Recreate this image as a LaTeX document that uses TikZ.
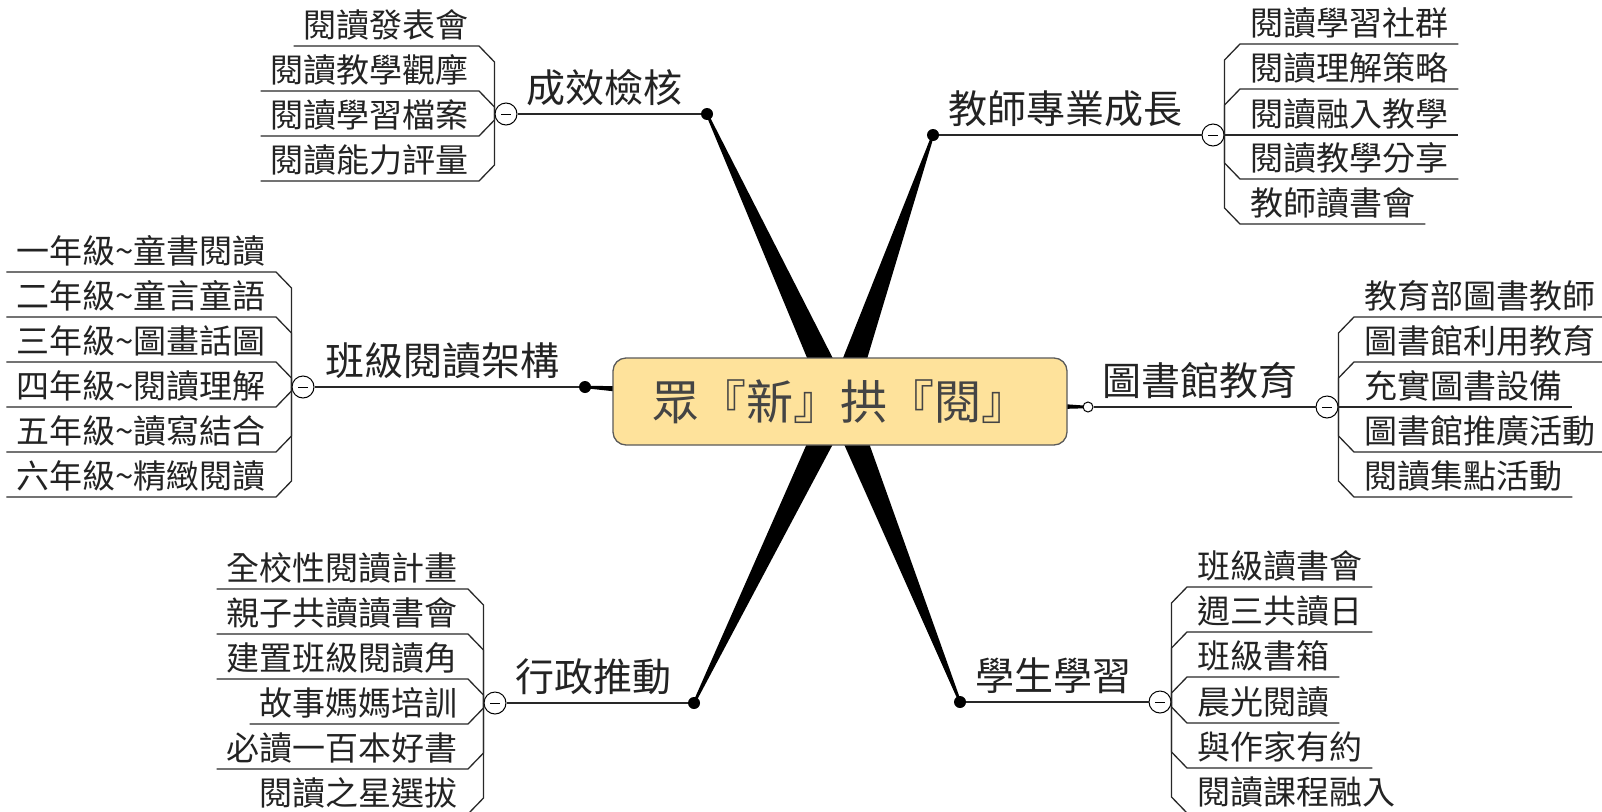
\documentclass[tikz,border=0pt]{standalone}
\usepackage{fontspec}
\newfontfamily\cjk{Noto Sans CJK TC}
\usetikzlibrary{calc}
\definecolor{boxfill}{RGB}{254,226,155}
\definecolor{boxline}{RGB}{90,90,90}
\definecolor{ink}{RGB}{35,35,35}
\definecolor{linec}{RGB}{40,40,40}
\newcommand\wedgeto[1]{\fill ($(ctr)!13.5pt!90:(#1)$) -- ($(#1)!1.2pt!-90:(ctr)$) -- ($(#1)!1.2pt!90:(ctr)$) -- ($(ctr)!13.5pt!-90:(#1)$) -- cycle;}
\newcommand\leafconnL[2]{\draw[conn] let \p1=(#1.west), \p2=(#2.south east) in (\p1) -- (\x1,{\y2+16pt*sign(\y1-\y2)}) -- (\p2) -- (#2.south west);}
\newcommand\leafconnR[2]{\draw[conn] let \p1=(#1.east), \p2=(#2.south west) in (\p1) -- (\x1,{\y2+16pt*sign(\y1-\y2)}) -- (\p2) -- (#2.south east);}
\newcommand\tld{\textasciitilde}
\begin{document}
\begin{tikzpicture}[x=1pt,y=-1pt,
  leafL/.style={font=\cjk\fontsize{33}{33}\selectfont, text=ink, inner xsep=10pt, inner ysep=0pt, text height=29pt, text depth=8.5pt, anchor=south east},
  leafR/.style={leafL, anchor=south west},
  brlabel/.style={font=\cjk\fontsize{39}{39}\selectfont, text=ink, inner sep=0pt, anchor=base west},
  cbox/.style={draw=boxline, line width=1.3pt, fill=boxfill, rounded corners=13pt, minimum width=454pt, minimum height=87pt, text height=39pt, text depth=3pt, inner sep=0pt, font=\cjk\fontsize{47}{47}\selectfont, text=ink!85},
  bdot/.style={circle, fill=black, inner sep=0pt, minimum size=12pt},
  odot/.style={circle, draw=black, fill=white, line width=1pt, inner sep=0pt, minimum size=10pt},
  coll/.style={circle, draw=black, fill=white, line width=1pt, inner sep=0pt, minimum size=22pt, path picture={\draw[line width=1pt] ([xshift=-5pt]path picture bounding box.center) -- ([xshift=5pt]path picture bounding box.center);}},
  conn/.style={draw=linec, line width=1.3pt}
]
\useasboundingbox (0,0) rectangle (1602,811);
\fill[white] (0,0) rectangle (1602,811);

% hub and branch end points
\coordinate (ctr) at (840,402);
\coordinate (pA) at (707,114);
\coordinate (pB) at (933,135);
\coordinate (pC) at (585,387);
\coordinate (pD) at (1088,407);
\coordinate (pE) at (694,703);
\coordinate (pF) at (960,702);

% tapered branches
\wedgeto{pA}
\wedgeto{pB}
\wedgeto{pC}
\wedgeto{pD}
\wedgeto{pE}
\wedgeto{pF}

\node[cbox] (hub) at (840,401.5) {眾『新』拱『閱』};

\node[bdot] (dA) at (pA) {};
\node[bdot] (dB) at (pB) {};
\node[bdot] (dC) at (pC) {};
\node[odot] (dD) at (pD) {};
\node[bdot] (dE) at (pE) {};
\node[bdot] (dF) at (pF) {};

% collapse circles
\node[coll] (cA) at (506,114) {};
\node[coll] (cB) at (1213,135) {};
\node[coll] (cC) at (303,387) {};
\node[coll] (cD) at (1327,407) {};
\node[coll] (cE) at (495,703) {};
\node[coll] (cF) at (1160,702) {};

\draw[conn] (dA) -- (cA);
\draw[conn] (dB) -- (cB);
\draw[conn] (dC) -- (cC);
\draw[conn] (dD) -- (cD);
\draw[conn] (dE) -- (cE);
\draw[conn] (dF) -- (cF);

% branch labels
\node[brlabel] (lA) at (526.5,102) {成效檢核};
\node[brlabel] (lB) at (948.5,123) {教師專業成長};
\node[brlabel] (lC) at (325.5,375) {班級閱讀架構};
\node[brlabel] (lD) at (1102.5,395) {圖書館教育};
\node[brlabel] (lE) at (515.5,691) {行政推動};
\node[brlabel] (lF) at (975.5,690) {學生學習};

% leaves A
\node[leafL] (a1) at (479,46) {閱讀發表會};
\node[leafL] (a2) at (479,91) {閱讀教學觀摩};
\node[leafL] (a3) at (479,136) {閱讀學習檔案};
\node[leafL] (a4) at (479,181) {閱讀能力評量};
\foreach \lf in {a1,a2,a3,a4} {\leafconnL{cA}{\lf}}

% leaves B
\node[leafR] (b1) at (1240,44) {閱讀學習社群};
\node[leafR] (b2) at (1240,89) {閱讀理解策略};
\node[leafR] (b3) at (1240,135) {閱讀融入教學};
\node[leafR] (b4) at (1240,179) {閱讀教學分享};
\node[leafR] (b5) at (1240,224) {教師讀書會};
\foreach \lf in {b1,b2,b3,b4,b5} {\leafconnR{cB}{\lf}}

% leaves C
\node[leafL] (c1) at (276,272) {一年級\tld 童書閱讀};
\node[leafL] (c2) at (276,317) {二年級\tld 童言童語};
\node[leafL] (c3) at (276,362) {三年級\tld 圖畫話圖};
\node[leafL] (c4) at (276,407) {四年級\tld 閱讀理解};
\node[leafL] (c5) at (276,452) {五年級\tld 讀寫結合};
\node[leafL] (c6) at (276,497) {六年級\tld 精緻閱讀};
\foreach \lf in {c1,c2,c3,c4,c5,c6} {\leafconnL{cC}{\lf}}

% leaves D
\node[leafR] (d1) at (1354,317) {教育部圖書教師};
\node[leafR] (d2) at (1354,362) {圖書館利用教育};
\node[leafR] (d3) at (1354,407) {充實圖書設備};
\node[leafR] (d4) at (1354,452) {圖書館推廣活動};
\node[leafR] (d5) at (1354,497) {閱讀集點活動};
\foreach \lf in {d1,d2,d3,d4,d5} {\leafconnR{cD}{\lf}}

% leaves E
\node[leafL] (e1) at (468,589) {全校性閱讀計畫};
\node[leafL] (e2) at (468,634) {親子共讀讀書會};
\node[leafL] (e3) at (468,679) {建置班級閱讀角};
\node[leafL] (e4) at (468,724) {故事媽媽培訓};
\node[leafL] (e5) at (468,769) {必讀一百本好書};
\node[leafL] (e6) at (468,814) {閱讀之星選拔};
\foreach \lf in {e1,e2,e3,e4,e5,e6} {\leafconnL{cE}{\lf}}

% leaves F
\node[leafR] (f1) at (1187,587) {班級讀書會};
\node[leafR] (f2) at (1187,632) {週三共讀日};
\node[leafR] (f3) at (1187,677) {班級書箱};
\node[leafR] (f4) at (1187,723) {晨光閱讀};
\node[leafR] (f5) at (1187,768) {與作家有約};
\node[leafR] (f6) at (1187,813) {閱讀課程融入};
\foreach \lf in {f1,f2,f3,f4,f5,f6} {\leafconnR{cF}{\lf}}
\end{tikzpicture}
\end{document}
